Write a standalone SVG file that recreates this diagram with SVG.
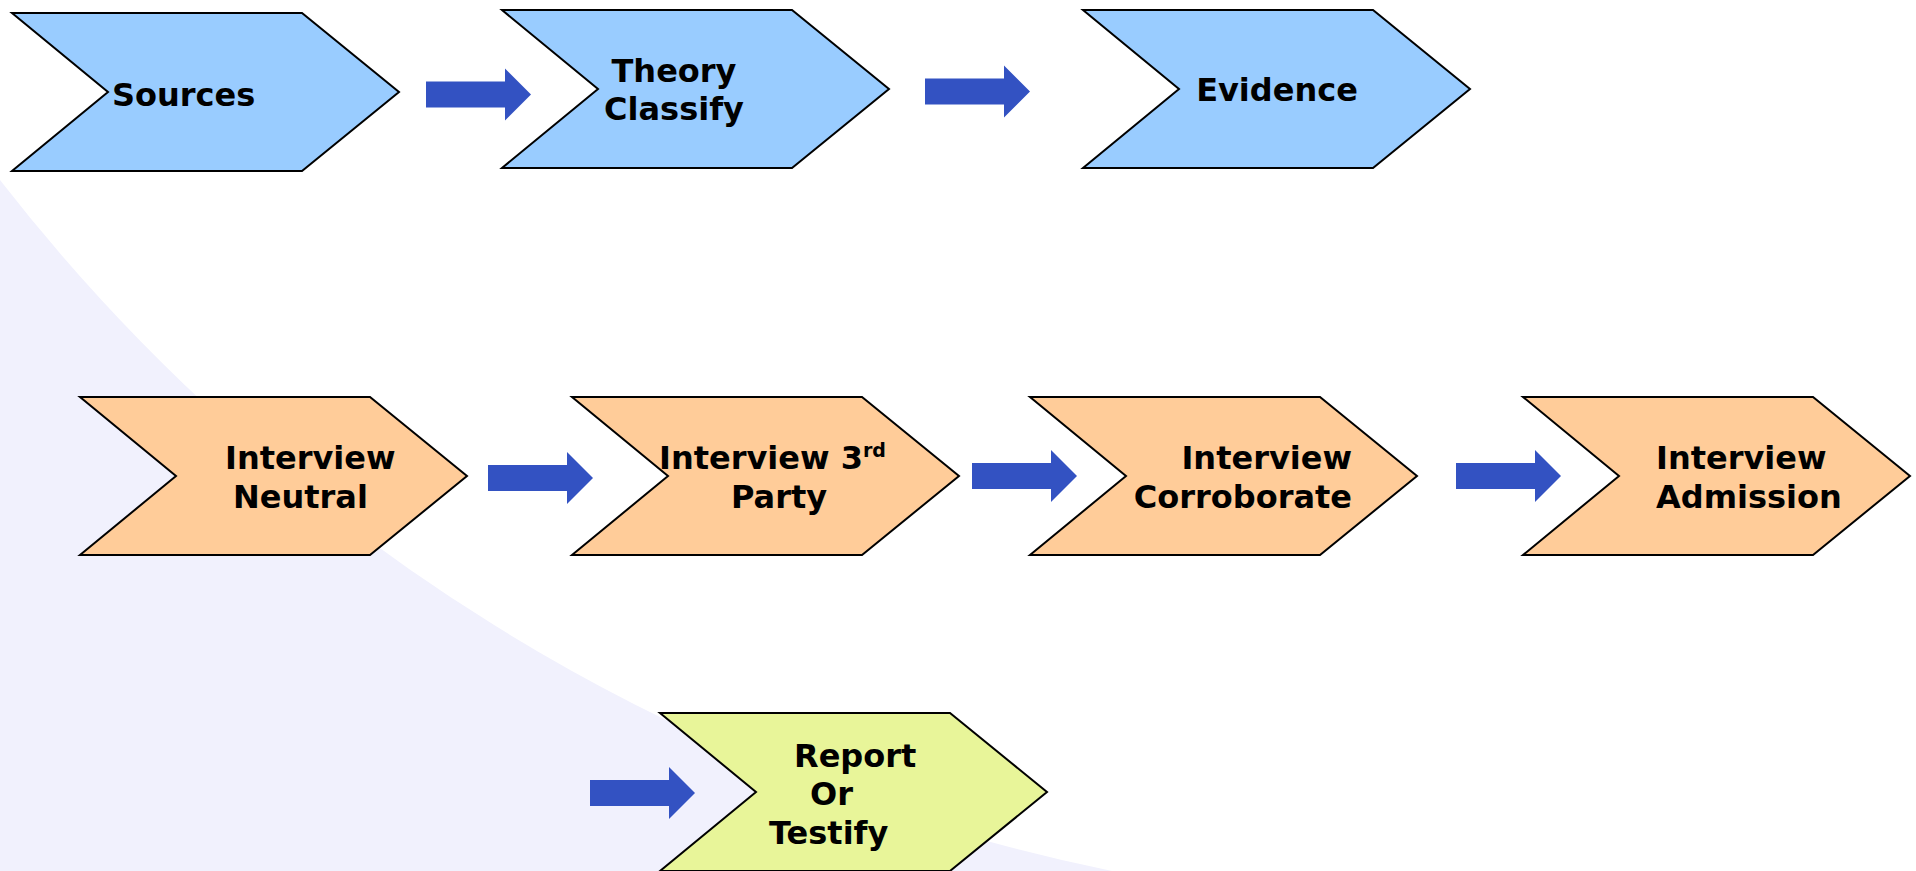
<svg xmlns="http://www.w3.org/2000/svg" xmlns:xlink="http://www.w3.org/1999/xlink" width="1916" height="871" viewBox="0 0 1916 871">
<style>
.lbl{font-family:"DejaVu Sans","Liberation Sans",sans-serif;font-weight:bold;font-size:32px;fill:#000}
.blue{fill:#99CCFF}
.orange{fill:#FFCC99}
.lime{fill:#E8F599}
.chev{stroke:#000;stroke-width:2;stroke-linejoin:miter}
.arr{fill:#3352C2}
</style>
<defs>
<path id="chevron" d="M0,0 H290 L387,79 L290,158 H0 L96,79 Z"/>
<path id="blockArrow" d="M0,-13 H79 V-26 L105,0 L79,26 V13 H0 Z"/>
</defs>
<rect x="0" y="0" width="1916" height="871" fill="#FFFFFF"/>
<path d="M0,180 A1886,1886 0 0 0 1112,871 L0,871 Z" fill="#F1F1FD"/>
<g id="connectors" class="arr">
<use xlink:href="#blockArrow" x="426" y="94.5"/>
<use xlink:href="#blockArrow" x="925" y="91.5"/>
<use xlink:href="#blockArrow" x="488" y="478"/>
<use xlink:href="#blockArrow" x="972" y="476"/>
<use xlink:href="#blockArrow" x="1456" y="476"/>
<use xlink:href="#blockArrow" x="590" y="793"/>
</g>
<g id="sources">
<use xlink:href="#chevron" x="12" y="13" class="chev blue"/>
<text class="lbl" x="112" y="106">Sources</text>
</g>
<g id="theory-classify">
<use xlink:href="#chevron" x="502" y="10" class="chev blue"/>
<text class="lbl" text-anchor="middle" x="674" y="82">Theory</text>
<text class="lbl" text-anchor="middle" x="674" y="120">Classify</text>
</g>
<g id="evidence">
<use xlink:href="#chevron" x="1083" y="10" class="chev blue"/>
<text class="lbl" text-anchor="middle" x="1277" y="101">Evidence</text>
</g>
<g id="interview-neutral">
<use xlink:href="#chevron" x="80" y="397" class="chev orange"/>
<text class="lbl" x="225" y="469">Interview</text>
<text class="lbl" x="233" y="508">Neutral</text>
</g>
<g id="interview-3rd-party">
<use xlink:href="#chevron" x="572" y="397" class="chev orange"/>
<text class="lbl" x="659" y="469">Interview 3<tspan font-size="19" dy="-12">rd</tspan></text>
<text class="lbl" x="731" y="508">Party</text>
</g>
<g id="interview-corroborate">
<use xlink:href="#chevron" x="1030" y="397" class="chev orange"/>
<text class="lbl" text-anchor="end" x="1352" y="469">Interview</text>
<text class="lbl" text-anchor="end" x="1352" y="508">Corroborate</text>
</g>
<g id="interview-admission">
<use xlink:href="#chevron" x="1523" y="397" class="chev orange"/>
<text class="lbl" x="1656" y="469">Interview</text>
<text class="lbl" x="1656" y="508">Admission</text>
</g>
<g id="report-or-testify">
<use xlink:href="#chevron" x="660" y="713" class="chev lime"/>
<text class="lbl" x="794" y="767">Report</text>
<text class="lbl" x="810" y="805">Or</text>
<text class="lbl" x="769" y="844">Testify</text>
</g>
</svg>
